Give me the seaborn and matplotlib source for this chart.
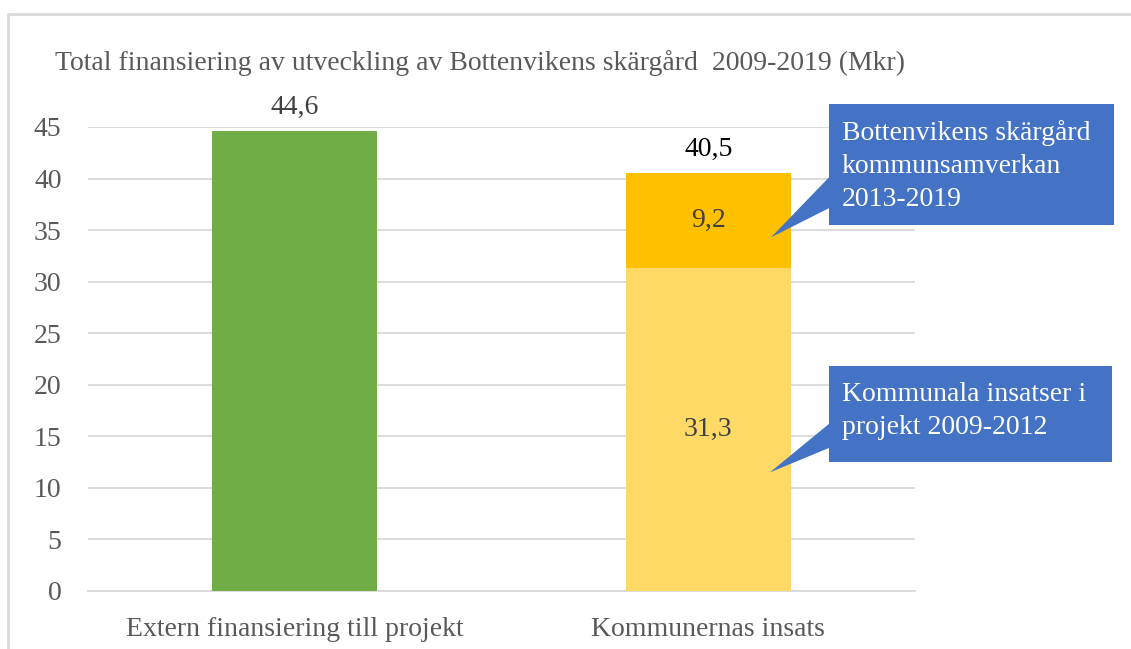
import matplotlib
matplotlib.use("Agg")
import matplotlib.pyplot as plt
from matplotlib.patches import Rectangle, Polygon
from matplotlib.lines import Line2D
import seaborn as sns

# --- data (Mkr) ---
categories = ["Extern finansiering till projekt", "Kommunernas insats"]
extern_finansiering = [44.6]
kommunala_projekt = [31.3]      # Kommunala insatser i projekt 2009-2012
kommunsamverkan = [9.2]         # Bottenvikens skärgård kommunsamverkan 2013-2019
yticks = [0, 5, 10, 15, 20, 25, 30, 35, 40, 45]

title = "Total finansiering av utveckling av Bottenvikens skärgård  2009-2019 (Mkr)"
callout_top = "Bottenvikens skärgård\nkommunsamverkan\n2013-2019"
callout_bottom = "Kommunala insatser i\nprojekt 2009-2012"

GREEN = "#70AD47"
GOLD = "#FFC000"
LIGHT = "#FFD966"
BLUE = "#4472C4"
GRID = "#D9D9D9"
TXT = "#595959"
FS = 20

totals = [extern_finansiering[0], kommunala_projekt[0] + kommunsamverkan[0]]
lower = [extern_finansiering[0], kommunala_projekt[0]]

sns.set_theme(style="white")
plt.rcParams["font.family"] = ["Liberation Serif", "DejaVu Serif"]

W, H = 1131, 649
fig = plt.figure(figsize=(W / 100, H / 100), dpi=100)
fig.patch.set_facecolor("white")


def fx(px):
    return px / W


def fy(py):
    return 1 - py / H


ax = fig.add_axes([fx(88), fy(591), fx(915) - fx(88), fy(127) - fy(591)])

# full stack height first, then the lower segment on top of it
sns.barplot(x=categories, y=totals, hue=categories, palette=[GREEN, GOLD],
            width=0.4, saturation=1, linewidth=0, legend=False, ax=ax, zorder=3)
sns.barplot(x=categories, y=lower, hue=categories, palette=[GREEN, LIGHT],
            width=0.4, saturation=1, linewidth=0, legend=False, ax=ax, zorder=3)

ax.set_xlim(-0.5, 1.5)
ax.set_ylim(0, 45)
ax.set_yticks(yticks)
ax.set_yticklabels([str(v) for v in yticks], fontsize=FS, color=TXT)
ax.tick_params(axis="y", length=0, pad=19)
ax.yaxis.grid(True, color=GRID, linewidth=1.3, zorder=0)
ax.set_axisbelow(True)
ax.set_xticks([0, 1])
ax.set_xticklabels(categories, fontsize=FS, color=TXT)
ax.tick_params(axis="x", length=0, pad=18.5)
ax.set_xticks([-0.5, 0.5, 1.5], minor=True)
ax.tick_params(axis="x", which="minor", length=6, width=1.3, color=GRID, direction="out")
ax.set_xlabel("")
ax.set_ylabel("")
for side in ["top", "right", "left"]:
    ax.spines[side].set_visible(False)
ax.spines["bottom"].set_color(GRID)
ax.spines["bottom"].set_linewidth(1.3)


def fmt(v):
    return f"{v:.1f}".replace(".", ",")


# value labels
ax.text(0, totals[0] + 1.1, fmt(totals[0]), ha="center", va="bottom",
        fontsize=FS, color="#404040")
ax.text(1, totals[1] + 1.1, fmt(totals[1]), ha="center", va="bottom",
        fontsize=FS, color="black")
ax.text(1, kommunala_projekt[0] + kommunsamverkan[0] / 2, fmt(kommunsamverkan[0]),
        ha="center", va="center", fontsize=FS, color="#404040")
ax.text(1, kommunala_projekt[0] / 2, fmt(kommunala_projekt[0]),
        ha="center", va="center", fontsize=FS, color="#404040")

# title
fig.text(fx(55), fy(63), title, ha="left", va="center", fontsize=FS, color=TXT)

# outer chart frame
fig.add_artist(Line2D([fx(8), fx(8)], [fy(14), 0], color=GRID, lw=2))
fig.add_artist(Line2D([fx(8), 1], [fy(14), fy(14)], color=GRID, lw=2))


def to_fig(x, y):
    disp = ax.transData.transform((x, y))
    return fig.transFigure.inverted().transform(disp)


def callout(box, base, tip, text):
    x0, y0, x1, y1 = box
    tx, ty = to_fig(*tip)
    rect = Rectangle((fx(x0), fy(y1)), fx(x1) - fx(x0), fy(y0) - fy(y1),
                     transform=fig.transFigure, facecolor=BLUE, edgecolor="none", zorder=5)
    tri = Polygon([[fx(x0) + 0.002, fy(base[0])], [fx(x0) + 0.002, fy(base[1])], [tx, ty]],
                  closed=True, transform=fig.transFigure, facecolor=BLUE,
                  edgecolor="none", zorder=5)
    fig.add_artist(rect)
    fig.add_artist(tri)
    fig.text(fx(x0 + 13), fy(y0 + 16), text, ha="left", va="top", fontsize=FS,
             color="white", linespacing=1.42, zorder=6)


callout((829, 104, 1114, 225), (175, 207), (1.152, 34.3), callout_top)
callout((829, 366, 1112, 462), (422, 447), (1.149, 11.5), callout_bottom)

fig.savefig("out.png", dpi=100, facecolor="white")
